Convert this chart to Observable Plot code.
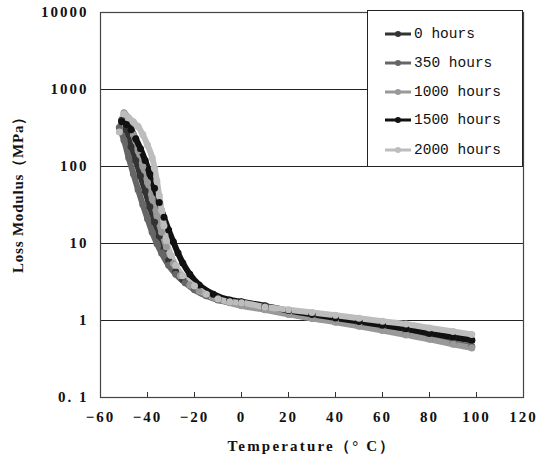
<!DOCTYPE html>
<html><head><meta charset="utf-8">
<script src="https://cdn.jsdelivr.net/npm/d3@7"></script>
<script src="https://cdn.jsdelivr.net/npm/@observablehq/plot@0.6"></script>
<style>
body{margin:0;background:#fff;}
#wrap{position:relative;width:546px;height:460px;}
#wrap svg{font-family:"Liberation Serif",serif;}
.tk text{font-weight:bold;font-size:15px;letter-spacing:2px;fill:#111;}
.ttl text{letter-spacing:2.2px;}
.ttly text{letter-spacing:0.8px;}
#legend{position:absolute;left:367px;top:10px;width:156px;height:157px;border:1px solid #222;background:#fff;box-sizing:border-box;font-family:"Liberation Mono",monospace;font-size:14.5px;color:#111;}
.row{position:absolute;left:0;height:20px;display:flex;align-items:center;}
.row svg{display:block;}
</style></head>
<body><div id="wrap"></div>
<script>
const seriesNames = ["0 hours","350 hours","1000 hours","1500 hours","2000 hours"];
const seriesColors = ["#333333","#666666","#999999","#111111","#bdbdbd"];

const t0h = [-51,-49,-47,-45,-43,-41,-39,-37,-35,-33,-31,-28,-25,-20,-15,-10,0,10,20,30,40,50,60,70,80,90,98];
const v0h = [400,300,180,120,75,48,30,19,12.5,8.5,6,4.3,3.4,2.6,2.2,1.95,1.7,1.5,1.32,1.17,1.05,0.95,0.85,0.76,0.67,0.6,0.55];

const t350h = [-52,-50,-48,-46,-44,-42,-40,-38,-36,-34,-31,-28,-24,-20,-15,-10,0,10,20,30,40,50,60,70,80,90,98];
const v350h = [320,220,130,80,50,32,21,14,10,7.5,5.2,4,3.1,2.5,2.1,1.85,1.6,1.4,1.22,1.08,0.97,0.86,0.76,0.67,0.58,0.51,0.46];

const t1000h = [-50,-48,-46,-44,-42,-40,-38,-36,-34,-32,-29,-26,-22,-18,-12,-5,0,10,20,30,40,50,60,70,80,90,98];
const v1000h = [500,420,260,160,100,62,38,23,14,9,5.5,3.8,2.9,2.4,2.0,1.7,1.55,1.38,1.2,1.06,0.95,0.84,0.74,0.65,0.57,0.49,0.44];

const t1500h = [-51,-49,-47,-45,-43,-41,-39,-37,-35,-33,-31,-29,-27,-25,-22,-18,-12,-5,0,10,20,30,40,50,60,70,80,90,98];
const v1500h = [380,350,300,230,170,120,80,52,34,22,15,10.5,7.5,5.6,4,2.9,2.2,1.85,1.75,1.55,1.35,1.2,1.08,0.97,0.87,0.78,0.68,0.61,0.56];

const t2000h = [-52,-50,-48,-46,-44,-42,-40,-38,-37,-36,-35,-34,-33,-32,-30,-28,-25,-20,-15,-10,-5,0,10,20,30,40,50,60,70,80,90,98];
const v2000h = [280,480,430,380,330,260,190,130,95,65,42,27,17,11,7,5.2,3.8,2.8,2.2,1.9,1.75,1.7,1.5,1.38,1.27,1.17,1.07,0.98,0.9,0.8,0.72,0.66];

const xTicks = [-60,-40,-20,0,20,40,60,80,100,120];
const yTicks = [0.1,1,10,100,1000,10000];
const yTickLabels = ["0. 1","1","10","100","1000","10000"];
const gridValues = [1,10,100,1000];

const temps = [t0h,t350h,t1000h,t1500h,t2000h];
const vals = [v0h,v350h,v1000h,v1500h,v2000h];
const data = [];
seriesNames.forEach((s,i)=>temps[i].forEach((t,j)=>data.push({series:s,t,v:vals[i][j]})));

const chart = Plot.plot({
  width: 546, height: 460,
  marginLeft: 100, marginRight: 23, marginTop: 12, marginBottom: 63,
  x: {domain: [-60,120]},
  y: {type: "log", domain: [0.1,10000]},
  color: {domain: seriesNames, range: seriesColors},
  marks: [
    Plot.ruleY(gridValues, {y: d=>d, stroke: "#222", strokeWidth: 1}),
    Plot.frame({stroke: "#444", strokeWidth: 1.2}),
    Plot.ruleX(xTicks.slice(1,-1), {x: d=>d, y1: 0.1, y2: 0.1, insetBottom: 5, stroke: "#333"}),
    Plot.axisX({ticks: xTicks, tickSize: 0, tickPadding: 14, tickFormat: d=> d<0 ? "−"+(-d) : String(d), className: "tk", label: null}),
    Plot.axisY({ticks: yTicks, tickSize: 0, tickPadding: 12, tickFormat: d=>yTickLabels[yTicks.indexOf(d)], className: "tk", label: null}),
    Plot.line(data, {x: "t", y: "v", z: "series", stroke: "series", strokeWidth: 6, curve: "monotone-x"}),
    Plot.dot(data, {x: "t", y: "v", fill: "series", r: 3.5}),
    Plot.text(["Loss Modulus（MPa）"], {frameAnchor: "left", textAnchor: "middle", dx: -82, dy: -14, rotate: -90, fontWeight: "bold", fontSize: 15, fill: "#111", className: "ttly"}),
    Plot.text(["Temperature（° C）"], {frameAnchor: "bottom", textAnchor: "middle", dy: 53, fontWeight: "bold", fontSize: 15, fill: "#111", className: "ttl"})
  ]
});
const wrap = document.getElementById("wrap");
wrap.appendChild(chart);

const legend = document.createElement("div");
legend.id = "legend";
const rowTops = [13, 42, 71, 99, 129];
seriesNames.forEach((s,i)=>{
  const row = document.createElement("div");
  row.className = "row";
  row.style.top = rowTops[i] + "px";
  row.innerHTML = `<svg width="46" height="20"><line x1="17" x2="43" y1="10" y2="10" stroke="${seriesColors[i]}" stroke-width="3"/><circle cx="30" cy="10" r="3" fill="${seriesColors[i]}"/></svg><span>${s}</span>`;
  legend.appendChild(row);
});
wrap.appendChild(legend);
</script>
</body></html>
